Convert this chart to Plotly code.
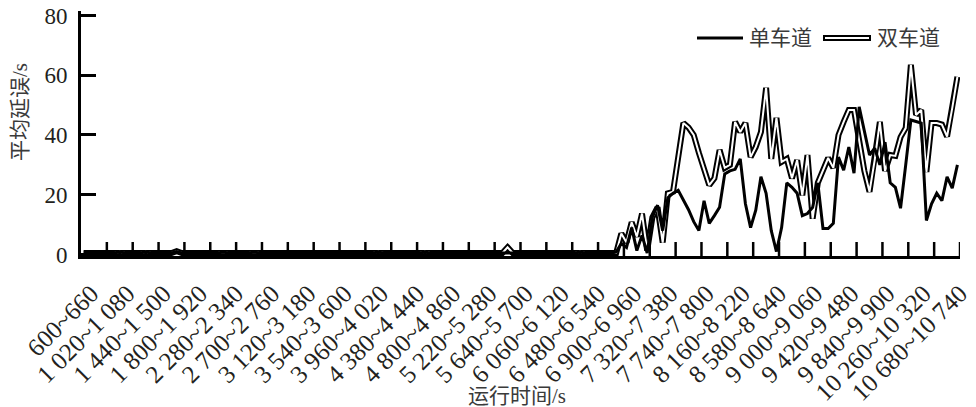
import plotly.graph_objects as go

# 60 s intervals from 600 s to 10 800 s
interval_start = 600
interval_step = 60
n_intervals = 170

# labelled intervals (every 7th)
tick_labels = [
    "600~660", "1 020~1 080", "1 440~1 500", "1 800~1 920", "2 280~2 340",
    "2 700~2 760", "3 120~3 180", "3 540~3 600", "3 960~4 020", "4 380~4 440",
    "4 800~4 860", "5 220~5 280", "5 640~5 700", "6 060~6 120", "6 480~6 540",
    "6 900~6 960", "7 320~7 380", "7 740~7 800", "8 160~8 220", "8 580~8 640",
    "9 000~9 060", "9 420~9 480", "9 840~9 900", "10 260~10 320", "10 680~10 740",
]
label_step = 7
mark_step = 5

# average delay, single-lane scheme (s)
delay_single = [
    0.5, 0.5, 0.5, 0.5, 0.5, 0.5, 0.5, 0.9, 0.5, 0.5,
    0.5, 0.5, 0.9, 0.5, 0.5, 0.5, 0.5, 0.5, 1.0, 0.5,
    0.5, 0.5, 0.5, 0.5, 0.5, 0.5, 0.5, 0.8, 0.5, 0.5,
    0.5, 0.5, 0.5, 0.8, 0.5, 0.5, 0.5, 0.5, 0.5, 0.5,
    0.5, 0.5, 0.5, 0.5, 0.5, 0.5, 0.5, 0.5, 0.5, 0.5,
    0.5, 0.5, 0.5, 0.5, 0.5, 0.5, 0.5, 0.8, 0.5, 0.5,
    0.5, 0.5, 0.5, 0.5, 0.5, 0.5, 0.8, 0.5, 0.5, 0.5,
    0.5, 0.5, 0.5, 0.5, 0.5, 0.5, 0.5, 0.5, 0.5, 0.5,
    0.5, 0.5, 0.6, 0.5, 0.5, 0.5, 0.5, 0.5, 0.5, 0.5,
    0.5, 0.5, 0.5, 0.5, 0.5, 0.5, 0.8, 0.5, 0.5, 0.5,
    0.5, 0.5, 0.5, 0.8, 3.7, 2.4, 9.0, 1.3, 6.4, 0.5,
    12.5, 16.5, 8.0, 19.0, 20.5, 21.5, 18.5, 15.0, 11.0, 8.0,
    18.0, 10.4, 13.0, 15.8, 27.0, 28.0, 28.5, 32.0, 17.0, 9.0,
    14.8, 26.0, 20.5, 8.0, 1.0, 9.0, 24.0, 22.5, 20.5, 13.0,
    13.7, 15.8, 24.0, 8.7, 8.7, 10.4, 32.6, 28.2, 36.0, 27.2,
    49.4, 41.7, 33.3, 35.6, 30.0, 37.6, 24.0, 22.5, 15.5, 30.0,
    45.0, 44.5, 44.0, 11.4, 17.0, 20.5, 18.0, 26.0, 22.2, 30.0,
]

# average delay, double-lane scheme (s)
delay_double = [
    0.5, 0.5, 0.5, 0.5, 0.5, 0.5, 0.5, 0.9, 0.5, 0.5,
    0.5, 0.5, 0.9, 0.5, 0.5, 0.5, 0.5, 0.5, 1.1, 0.5,
    0.5, 0.5, 0.5, 0.5, 0.5, 0.5, 0.5, 0.8, 0.5, 0.5,
    0.5, 0.5, 0.5, 0.8, 0.5, 0.5, 0.5, 0.5, 0.5, 0.5,
    0.5, 0.5, 0.5, 0.5, 0.5, 0.5, 0.5, 0.5, 0.5, 0.5,
    0.5, 0.5, 0.5, 0.5, 0.5, 0.5, 0.5, 0.9, 0.5, 0.5,
    0.5, 0.5, 0.5, 0.5, 0.5, 0.5, 0.9, 0.5, 0.5, 0.5,
    0.5, 0.5, 0.5, 0.5, 0.5, 0.5, 0.5, 0.5, 0.5, 0.5,
    0.5, 0.5, 2.4, 0.5, 0.5, 0.5, 0.5, 0.5, 0.5, 0.5,
    0.5, 0.5, 0.5, 0.5, 0.5, 0.5, 0.9, 0.5, 0.5, 0.5,
    0.5, 0.5, 0.5, 0.5, 7.0, 4.0, 10.8, 6.0, 13.7, 1.3,
    12.4, 15.8, 4.0, 20.5, 21.0, 32.0, 44.0, 42.5, 40.0, 34.0,
    28.5, 23.2, 25.5, 35.0, 29.0, 30.0, 44.4, 41.0, 44.0, 32.6,
    36.0, 41.0, 55.8, 32.0, 45.7, 31.0, 32.0, 25.5, 31.6, 19.8,
    33.3, 12.0, 24.0, 28.0, 32.3, 29.0, 40.0, 44.4, 48.4, 48.4,
    38.0, 28.0, 21.0, 31.6, 44.4, 28.0, 33.3, 33.0, 39.3, 42.3,
    63.5, 46.7, 48.4, 27.6, 44.0, 44.0, 43.5, 39.5, 49.0, 59.5,
]

y_ticks = [0, 20, 40, 60, 80]
y_range = [-0.5, 81.5]

series_names = ["单车道", "双车道"]
x_title = "运行时间/s"
y_title = "平均延误/s"

INK = "#231f20"
GREY = "#3a3a3a"
SERIF = "Times New Roman, serif"
MIXED = "Times New Roman, Noto Sans CJK SC, serif"

W, H = 976, 407
L, R, T, B = 81, 16, 11, 151
PW, PH = W - L - R, H - T - B


def xp(px):
    return (px - L) / PW


def yp(py):
    return (H - B - py) / PH


# interval index used as the x position of each point
x_idx = list(range(n_intervals))
x_range = [-0.5, n_intervals - 0.5]

# labels sit slightly right of their interval, rotated text ending near the axis
label_shift = 1.5
label_vals = [k * label_step + label_shift for k in range(len(tick_labels))]
mark_vals = [k * mark_step - 0.5 for k in range(1, n_intervals // mark_step + 1)]

fig = go.Figure()

# double-lane: black outline with white core
fig.add_trace(go.Scatter(x=x_idx, y=delay_double, mode="lines",
                         line=dict(color="black", width=6), showlegend=False,
                         hoverinfo="skip"))
fig.add_trace(go.Scatter(x=x_idx, y=delay_double, mode="lines",
                         line=dict(color="white", width=2), showlegend=False,
                         name=series_names[1]))
# single-lane: plain black line
fig.add_trace(go.Scatter(x=x_idx, y=delay_single, mode="lines",
                         line=dict(color="black", width=3), showlegend=False,
                         name=series_names[0]))

# inward x-axis tick marks every 5 intervals (14 px tall), drawn on top
tick_top = y_range[0] + 14 * (y_range[1] - y_range[0]) / PH
tick_x, tick_y = [], []
for v in mark_vals:
    tick_x += [v, v, None]
    tick_y += [y_range[0], tick_top, None]
fig.add_trace(go.Scatter(x=tick_x, y=tick_y, mode="lines",
                         line=dict(color="black", width=2.5),
                         showlegend=False, hoverinfo="skip", cliponaxis=False))

fig.update_layout(
    width=W, height=H,
    margin=dict(l=L, r=R, t=T, b=B, pad=0, autoexpand=False),
    paper_bgcolor="white", plot_bgcolor="white",
    font=dict(family=MIXED, color=INK, size=22),
    showlegend=False,
    xaxis=dict(
        range=x_range, automargin=False,
        tickmode="array", tickvals=label_vals, ticktext=tick_labels,
        tickangle=-45, ticks="", showgrid=False, zeroline=False,
        showline=True, linecolor="black", linewidth=3,
        tickfont=dict(family=SERIF, size=25, color=INK),
        ticklabelstandoff=10,
    ),
    yaxis=dict(
        range=y_range, automargin=False,
        tickmode="array", tickvals=y_ticks,
        ticks="inside", ticklen=15, tickwidth=2.5, tickcolor="black",
        showgrid=False, zeroline=False,
        showline=True, linecolor="black", linewidth=3,
        tickfont=dict(family=SERIF, size=23, color=INK),
        ticklabelstandoff=6,
    ),
)

# axis titles
fig.add_annotation(text=x_title, xref="paper", yref="paper",
                   x=xp(517), y=yp(396), xanchor="center", yanchor="middle",
                   showarrow=False, font=dict(family=MIXED, size=21, color=GREY))
fig.add_annotation(text=y_title, xref="paper", yref="paper",
                   x=xp(20), y=yp(112), xanchor="center", yanchor="middle",
                   showarrow=False, textangle=-90,
                   font=dict(family=MIXED, size=21, color=GREY))

# legend
leg_y = yp(38)
fig.add_shape(type="line", xref="paper", yref="paper",
              x0=xp(697), x1=xp(743), y0=leg_y, y1=leg_y,
              line=dict(color="black", width=3))
fig.add_annotation(text=series_names[0], xref="paper", yref="paper",
                   x=xp(747), y=leg_y, xanchor="left", yanchor="middle",
                   showarrow=False, font=dict(family=MIXED, size=21, color=GREY))
fig.add_shape(type="line", xref="paper", yref="paper",
              x0=xp(823), x1=xp(871), y0=leg_y, y1=leg_y,
              line=dict(color="black", width=6))
fig.add_shape(type="line", xref="paper", yref="paper",
              x0=xp(825), x1=xp(869), y0=leg_y, y1=leg_y,
              line=dict(color="white", width=2))
fig.add_annotation(text=series_names[1], xref="paper", yref="paper",
                   x=xp(875), y=leg_y, xanchor="left", yanchor="middle",
                   showarrow=False, font=dict(family=MIXED, size=21, color=GREY))

fig.write_html("out.html")
